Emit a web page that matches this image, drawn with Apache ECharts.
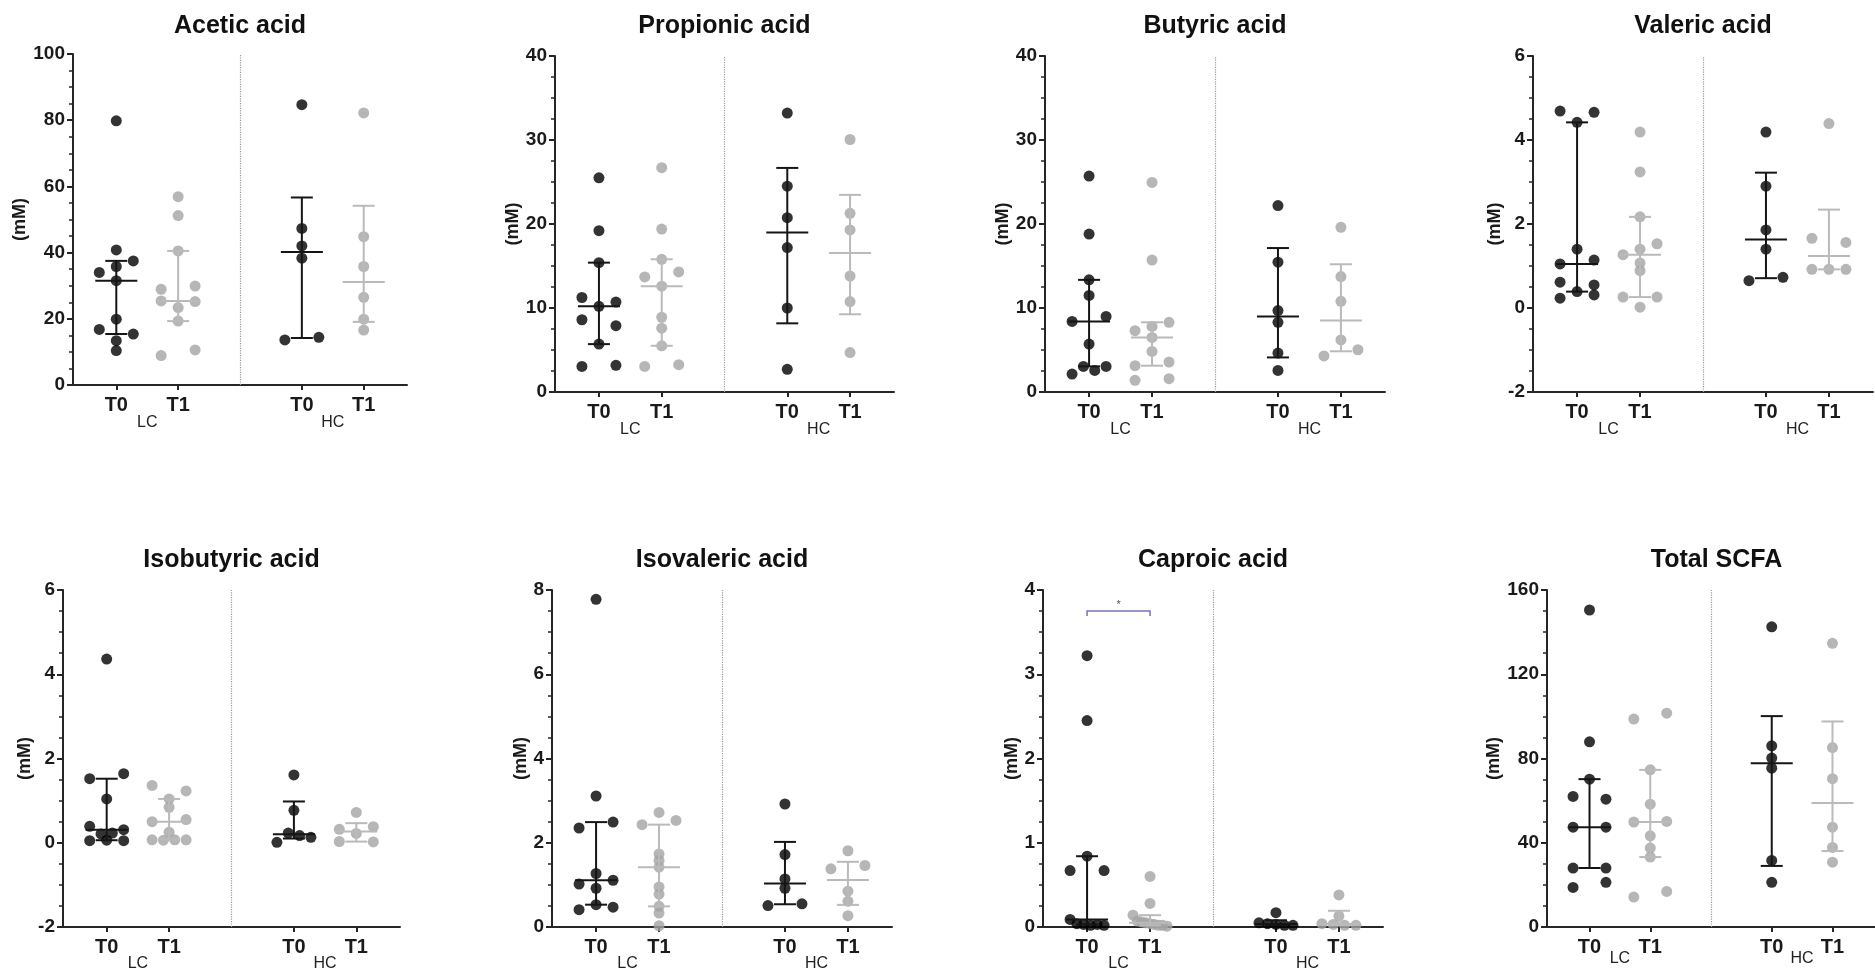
<!DOCTYPE html>
<html>
<head>
<meta charset="utf-8">
<script src="https://cdn.jsdelivr.net/npm/echarts@6/dist/echarts.min.js"></script>
<style>
html,body{margin:0;padding:0;background:#ffffff;}
#chart{width:1875px;height:972px;}
</style>
</head>
<body>
<div id="chart"></div>
<script>
// ---------------- DATA ----------------
const titles = ['Acetic acid','Propionic acid','Butyric acid','Valeric acid',
                'Isobutyric acid','Isovaleric acid','Caproic acid','Total SCFA'];
const yMin  = [0, 0, 0, -2, -2, 0, 0, 0];
const yMax  = [100, 40, 40, 6, 6, 8, 4, 160];
const yStep = [20, 10, 10, 2, 2, 2, 1, 40];
const timeLabels  = ['T0', 'T1', 'T0', 'T1'];
const groupLabels = ['LC', 'HC'];
const yName = '(mM)';

const aceticT0LC = [79.8, 40.8, 34.0, 35.8, 37.5, 31.5, 19.9, 16.8, 15.4, 13.4, 10.4];
const aceticT1LC = [56.9, 51.2, 40.5, 28.9, 29.9, 25.4, 23.4, 25.2, 19.3, 8.9, 10.6];
const aceticT0HC = [84.7, 47.3, 42.0, 38.3, 13.6, 14.4];
const aceticT1HC = [82.2, 44.8, 35.8, 26.5, 19.9, 16.6];

const propT0LC = [25.5, 19.2, 15.4, 11.25, 10.2, 10.7, 8.6, 7.9, 5.7, 3.05, 3.17];
const propT1LC = [26.7, 19.4, 15.8, 13.7, 14.3, 12.6, 8.9, 7.6, 5.5, 3.05, 3.25];
const propT0HC = [33.2, 24.5, 20.75, 17.2, 10.0, 2.7];
const propT1HC = [30.06, 21.27, 19.29, 13.8, 10.77, 4.7];

const butT0LC = [25.7, 18.8, 13.35, 11.5, 8.4, 9.0, 5.7, 2.14, 3.05, 2.57, 3.05];
const butT1LC = [24.95, 15.7, 7.3, 7.8, 8.3, 6.5, 4.83, 3.13, 3.56, 1.39, 1.58];
const butT0HC = [22.2, 15.45, 9.7, 8.3, 4.63, 2.57];
const butT1HC = [19.6, 13.74, 10.8, 6.2, 4.3, 5.03];

const valT0LC = [4.69, 4.66, 4.42, 1.40, 1.05, 1.14, 0.615, 0.55, 0.235, 0.39, 0.31];
const valT1LC = [4.19, 3.24, 2.17, 1.27, 1.40, 1.53, 1.07, 0.89, 0.26, 0.26, 0.02];
const valT0HC = [4.19, 2.9, 1.86, 1.40, 0.65, 0.73];
const valT1HC = [4.39, 1.66, 1.56, 0.92, 0.92, 0.92];

const isobT0LC = [4.36, 1.52, 1.64, 1.04, 0.39, 0.21, 0.23, 0.31, 0.05, 0.06, 0.05];
const isobT1LC = [1.36, 1.23, 1.04, 0.84, 0.50, 0.55, 0.25, 0.07, 0.06, 0.07, 0.07];
const isobT0HC = [1.61, 0.77, 0.01, 0.23, 0.17, 0.13];
const isobT1HC = [0.72, 0.32, 0.22, 0.38, 0.03, 0.02];

const isovT0LC = [7.78, 3.11, 2.35, 2.49, 1.27, 1.02, 0.92, 1.11, 0.41, 0.53, 0.47];
const isovT1LC = [2.72, 2.43, 2.53, 1.73, 1.58, 1.42, 0.95, 0.78, 0.49, 0.33, 0.03];
const isovT0HC = [2.92, 1.72, 1.14, 0.92, 0.51, 0.55];
const isovT1HC = [1.81, 1.38, 1.46, 0.85, 0.61, 0.27];

const capT0LC = [3.22, 2.45, 0.84, 0.67, 0.67, 0.09, 0.04, 0.03, 0.02, 0.03, 0.02];
const capT1LC = [0.60, 0.28, 0.14, 0.07, 0.06, 0.05, 0.04, 0.03, 0.02, 0.02, 0.01];
const capT0HC = [0.17, 0.05, 0.04, 0.03, 0.02, 0.02];
const capT1HC = [0.38, 0.13, 0.04, 0.03, 0.02, 0.02];

const totT0LC = [150.5, 87.9, 70.2, 62.0, 60.7, 47.4, 47.4, 28.0, 28.0, 18.8, 21.2];
const totT1LC = [98.7, 101.5, 74.6, 58.3, 49.8, 50.1, 43.3, 37.5, 33.2, 14.2, 16.9];
const totT0HC = [142.5, 86.0, 80.2, 75.4, 31.6, 21.2];
const totT1HC = [134.7, 85.2, 70.4, 47.4, 37.8, 30.8];

const panelData = [
  [aceticT0LC, aceticT1LC, aceticT0HC, aceticT1HC],
  [propT0LC, propT1LC, propT0HC, propT1HC],
  [butT0LC, butT1LC, butT0HC, butT1HC],
  [valT0LC, valT1LC, valT0HC, valT1HC],
  [isobT0LC, isobT1LC, isobT0HC, isobT1HC],
  [isovT0LC, isovT1LC, isovT0HC, isovT1HC],
  [capT0LC, capT1LC, capT0HC, capT1HC],
  [totT0LC, totT1LC, totT0HC, totT1HC]
];

// significance annotation (panel index, compared slots, bracket height, text)
const sigBrackets = [{panel: 6, from: 0, to: 1, y: 3.75, text: '*'}];

// ---------------- LAYOUT / STYLE ----------------
const FONT = '"Liberation Sans", Arial, Helvetica, sans-serif';
const X_MIN = 0.3, X_MAX = 5.7;
const slotX = [1, 2, 4, 5];
const groupX = [1.5, 4.5];
const sepX = 3;
const grids = [
  {left: 73,   top: 54,  width: 334, height: 331},
  {left: 555,  top: 56,  width: 339, height: 336},
  {left: 1045, top: 56,  width: 340, height: 336},
  {left: 1533, top: 56,  width: 340, height: 336},
  {left: 63,   top: 590, width: 337, height: 337},
  {left: 552,  top: 590, width: 340, height: 337},
  {left: 1043, top: 590, width: 340, height: 337},
  {left: 1547, top: 590, width: 339, height: 337}
];
const nameGaps = [41, 33, 33, 26, 29, 21, 22, 43];
const groupLabelMargins = [30, 30, 30, 30, 29, 29, 29, 24];
const titleY = [26, 26, 26, 26, 560, 560, 560, 560];
const BLACK = '#000000', GRAY = '#a4a4a4';
const LINE_BLACK = '#151515', LINE_GRAY = '#bababa';
const AXIS = '#262626';
const SWARM_HALF = 17;   // px half-width of a crowded row
const ROW_GAP = 6.2;     // px vertical distance that puts points in the same row

// Prism-style quantile (rank p*(n+1), linear interpolation)
function quant(sorted, p) {
  const n = sorted.length;
  let r = p * (n + 1);
  if (r < 1) r = 1;
  if (r > n) r = n;
  const lo = Math.floor(r), f = r - lo;
  if (lo >= n) return sorted[n - 1];
  return sorted[lo - 1] + f * (sorted[lo] - sorted[lo - 1]);
}

// simple row-based swarm: offsets in px (points of a row spread across +-SWARM_HALF)
function swarmOffsets(vals, pxPerY) {
  const idx = vals.map((v, i) => i).sort((a, b) => vals[a] - vals[b] || a - b);
  const offs = new Array(vals.length).fill(0);
  let group = [], last = null;
  const flush = () => {
    const n = group.length;
    if (n > 1) {
      const members = group.slice().sort((a, b) => a - b);
      const step = 2 * SWARM_HALF / (n - 1);
      members.forEach((m, j) => { offs[m] = (j - (n - 1) / 2) * step; });
    }
    group = [];
  };
  idx.forEach(i => {
    const y = vals[i] * pxPerY;
    if (last !== null && y - last >= ROW_GAP) flush();
    group.push(i);
    last = y;
  });
  flush();
  return offs;
}

const option = {
  animation: false,
  backgroundColor: '#ffffff',
  textStyle: {fontFamily: FONT},
  grid: [], xAxis: [], yAxis: [], series: [], graphic: []
};

titles.forEach((title, i) => {
  const g = grids[i];
  option.grid.push({left: g.left, top: g.top, width: g.width, height: g.height, containLabel: false});
  // main x axis (T0/T1)
  option.xAxis.push({
    gridIndex: i, type: 'value', min: X_MIN, max: X_MAX, position: 'bottom',
    axisLine: {show: true, onZero: false, lineStyle: {color: AXIS, width: 2}},
    axisTick: {show: true, customValues: slotX, length: 5, lineStyle: {color: AXIS, width: 2}},
    axisLabel: {show: true, customValues: slotX, margin: 10,
      formatter: v => timeLabels[slotX.indexOf(v)] || '',
      fontSize: 20, fontWeight: 'bold', color: '#1a1a1a', fontFamily: FONT},
    splitLine: {show: false}
  });
  // group x axis (LC/HC)
  option.xAxis.push({
    gridIndex: i, type: 'value', min: X_MIN, max: X_MAX, position: 'bottom',
    axisLine: {show: false, onZero: false}, axisTick: {show: false},
    axisLabel: {show: true, customValues: groupX, margin: groupLabelMargins[i],
      formatter: v => groupLabels[groupX.indexOf(v)] || '',
      fontSize: 16, color: '#222', fontFamily: FONT},
    splitLine: {show: false}
  });
  option.yAxis.push({
    gridIndex: i, type: 'value', min: yMin[i], max: yMax[i], interval: yStep[i],
    axisLine: {show: true, lineStyle: {color: AXIS, width: 2}},
    axisTick: {show: true, length: 6, lineStyle: {color: AXIS, width: 2}},
    minorTick: {show: true, splitNumber: 4, length: 4, lineStyle: {color: AXIS, width: 1.5}},
    splitLine: {show: false}, minorSplitLine: {show: false},
    axisLabel: {fontSize: 19, fontWeight: 'bold', color: '#1a1a1a', margin: 8, fontFamily: FONT},
    name: yName, nameLocation: 'middle', nameRotate: 90, nameGap: nameGaps[i],
    nameTextStyle: {fontSize: 18, fontWeight: 'bold', color: '#1a1a1a', fontFamily: FONT}
  });

  const pxX = g.width / (X_MAX - X_MIN);
  const pxY = g.height / (yMax[i] - yMin[i]);
  const blackPts = [], grayPts = [], bars = [];
  panelData[i].forEach((vals, k) => {
    const offs = swarmOffsets(vals, pxY);
    const pts = vals.map((v, j) => [slotX[k] + offs[j] / pxX, v]);
    (k % 2 === 0 ? blackPts : grayPts).push(...pts);
    const s = vals.slice().sort((a, b) => a - b);
    bars.push([slotX[k], quant(s, 0.5), quant(s, 0.25), quant(s, 0.75), k % 2]);
  });

  option.series.push({
    type: 'scatter', xAxisIndex: 2 * i, yAxisIndex: i, data: blackPts,
    symbol: 'circle', symbolSize: 11, itemStyle: {color: BLACK}, z: 2, silent: true,
    markLine: {silent: true, symbol: ['none', 'none'], label: {show: false},
      lineStyle: {type: 'dotted', color: '#9a9a9a', width: 1.2},
      data: [{xAxis: sepX}]}
  });
  option.series.push({
    type: 'scatter', xAxisIndex: 2 * i, yAxisIndex: i, data: grayPts,
    symbol: 'circle', symbolSize: 11, itemStyle: {color: GRAY}, z: 2, silent: true
  });
  option.series.push({
    type: 'custom', xAxisIndex: 2 * i, yAxisIndex: i, data: bars, z: 3, silent: true,
    renderItem: (params, api) => {
      const x = api.value(0), m = api.value(1), lo = api.value(2), hi = api.value(3);
      const col = api.value(4) ? LINE_GRAY : LINE_BLACK;
      const pm = api.coord([x, m]), pl = api.coord([x, lo]), ph = api.coord([x, hi]);
      const st = {stroke: col, lineWidth: 2};
      return {type: 'group', children: [
        {type: 'line', shape: {x1: pl[0], y1: pl[1], x2: ph[0], y2: ph[1]}, style: st},
        {type: 'line', shape: {x1: pm[0] - 21, y1: pm[1], x2: pm[0] + 21, y2: pm[1]}, style: st},
        {type: 'line', shape: {x1: pl[0] - 11, y1: pl[1], x2: pl[0] + 11, y2: pl[1]}, style: st},
        {type: 'line', shape: {x1: ph[0] - 11, y1: ph[1], x2: ph[0] + 11, y2: ph[1]}, style: st}
      ]};
    }
  });

  const br = sigBrackets.filter(b => b.panel === i);
  if (br.length) {
    option.series.push({
      type: 'custom', xAxisIndex: 2 * i, yAxisIndex: i, silent: true, z: 4,
      data: br.map(b => [slotX[b.from], slotX[b.to], b.y]),
      renderItem: (params, api) => {
        const a = api.coord([api.value(0), api.value(2)]);
        const b = api.coord([api.value(1), api.value(2)]);
        const txt = br[params.dataIndex].text;
        return {type: 'group', children: [
          {type: 'polyline', shape: {points: [[a[0], a[1] + 5], [a[0], a[1]], [b[0], b[1]], [b[0], b[1] + 5]]},
           style: {stroke: '#7474b8', lineWidth: 1.5, fill: null}},
          {type: 'text', x: (a[0] + b[0]) / 2, y: a[1] - 1,
           style: {text: txt, font: '11px ' + FONT, fill: '#555',
                   align: 'center', verticalAlign: 'bottom', textAlign: 'center', textVerticalAlign: 'bottom'}}
        ]};
      }
    });
  }

  const sepPx = g.left + (sepX - X_MIN) / (X_MAX - X_MIN) * g.width;
  option.graphic.push({
    type: 'text', x: sepPx, y: titleY[i], silent: true,
    style: {text: title, font: 'bold 25px ' + FONT, fill: '#111',
            align: 'center', verticalAlign: 'middle', textAlign: 'center', textVerticalAlign: 'middle'}
  });
});

const chart = echarts.init(document.getElementById('chart'), null, {renderer: 'canvas'});
chart.setOption(option);
</script>
</body>
</html>
